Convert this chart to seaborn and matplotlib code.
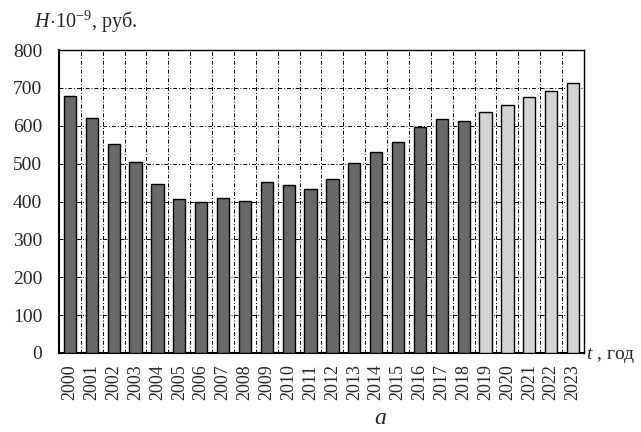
import matplotlib
matplotlib.use("Agg")
import matplotlib.pyplot as plt
import seaborn as sns
import numpy as np
import pandas as pd

# data
years = [str(y) for y in range(2000, 2024)]
values = [678, 620, 552, 505, 447, 407, 398, 409, 402, 451, 444, 434,
          460, 502, 530, 556, 597, 618, 613, 636, 655, 676, 693, 714]
kind = ["факт"] * 19 + ["прогноз"] * 5
palette = {"факт": "#696969", "прогноз": "#d3d3d3"}
y_ticks = list(range(0, 900, 100))

sns.set_theme(style="white")
plt.rcParams["font.family"] = ["Liberation Serif", "DejaVu Serif"]
plt.rcParams["mathtext.fontset"] = "custom"
plt.rcParams["mathtext.rm"] = "Liberation Serif"
plt.rcParams["mathtext.it"] = "Liberation Serif:italic"

df = pd.DataFrame({"year": years, "value": values, "kind": kind})

fig = plt.figure(figsize=(6.41, 4.32), dpi=100)
ax = fig.add_axes([0.092, 0.183, 0.819, 0.701])

sns.barplot(data=df, x="year", y="value", hue="kind", palette=palette,
            dodge=False, width=0.56, edgecolor="black", linewidth=1.0,
            legend=False, ax=ax, zorder=3)

# grid: dash-dot lines between bars and at every 100
dashdot = (0, (4, 2, 1, 2))
ax.set_xticks(np.arange(len(years)) + 0.5, minor=True)
ax.set_ylim(0, 800)
ax.set_xlim(-0.5, len(years) - 0.5)
ax.set_yticks(y_ticks)
ax.grid(True, which="minor", axis="x", color="black", lw=0.7, linestyle=dashdot, zorder=0)
ax.grid(True, which="major", axis="y", color="black", lw=0.7, linestyle=dashdot, zorder=0)
ax.set_axisbelow(True)
ax.tick_params(axis="x", which="both", length=0, labelsize=13, rotation=90, pad=8)
ax.tick_params(axis="y", length=0, labelsize=14, pad=12)
ax.set_xlabel("")
ax.set_ylabel("")
for s in ax.spines.values():
    s.set_color("black")
    s.set_linewidth(1.0)
ax.spines["left"].set_linewidth(1.5)
ax.spines["bottom"].set_linewidth(1.5)

fig.text(0.053, 0.949, r"$H\!\cdot\!10^{-9}$, руб.", fontsize=14.5, va="center", ha="left")
fig.text(0.914, 0.178, "$t$ , год", fontsize=14, va="center", ha="left")
fig.text(0.593, 0.006, "а", fontsize=17, style="italic", ha="center", va="bottom")

fig.savefig("out.png", dpi=100)
